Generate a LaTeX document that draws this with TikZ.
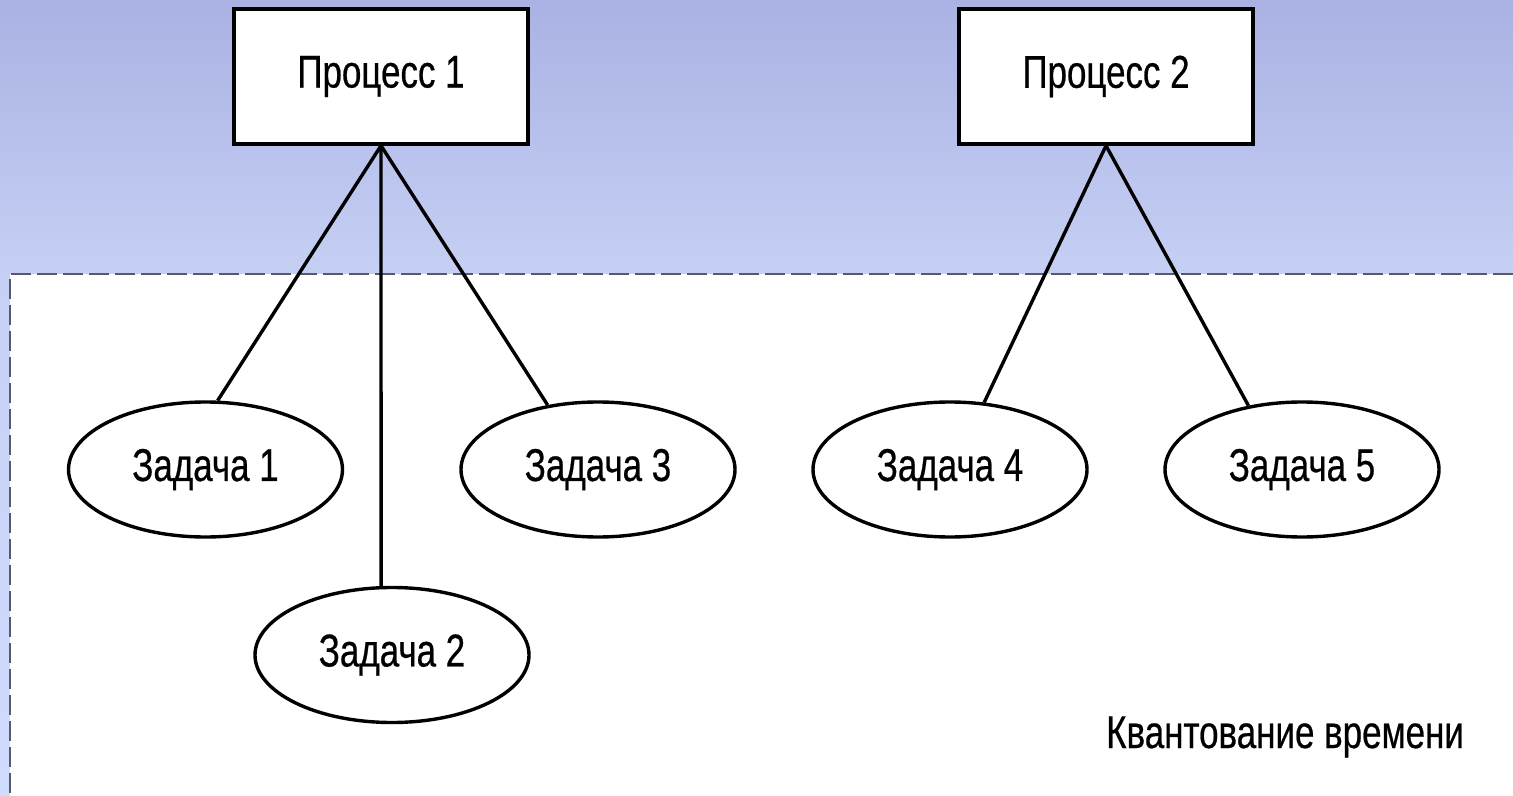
\documentclass[tikz,border=0pt]{standalone}
\usepackage{fontspec}
\setmainfont{Liberation Sans}
\newfontfamily\condfont[FakeStretch=0.76, FakeBold=0.5]{Liberation Sans}
\usetikzlibrary{shapes.geometric}
\definecolor{bgtop}{RGB}{169,178,227}
\definecolor{bgmid}{RGB}{198,208,244}
\definecolor{bgbottom}{RGB}{208,220,254}
\definecolor{framegray}{RGB}{88,89,110}
\tikzset{
  procbox/.style={draw=black, line width=1.7pt, fill=white, rectangle,
    minimum width=147pt, minimum height=67.5pt, inner sep=0pt,
    font=\condfont\fontsize{23}{26}\selectfont},
  taskell/.style={draw=black, line width=1.7pt, fill=white, ellipse,
    minimum width=137pt, minimum height=67.5pt, inner sep=0pt,
    font=\condfont\fontsize{23}{26}\selectfont},
  link/.style={draw=black, line width=1.7pt},
  quantum/.style={dash pattern=on 10pt off 3pt, draw=framegray, line width=1.4pt}
}
\begin{document}
\begin{tikzpicture}[x=0.5pt, y=-0.5pt]
  \useasboundingbox (0,0) rectangle (1513,796);
  % backdrop
  \shade[top color=bgtop, bottom color=bgmid] (0,0) rectangle (1513,275);
  \shade[top color=bgmid, bottom color=bgbottom] (0,274) rectangle (1513,796);
  % time-slicing area
  \fill[white] (10,274) rectangle (1513,796);
  \draw[quantum] (1513,274) -- (10,274) -- (10,796);
  \node[anchor=base east, font=\condfont\fontsize{23}{26}\selectfont] (qlabel) at (1471,748) {Квантование времени};

  % processes
  \node[procbox] (p1) at (381,76.5) {\raisebox{-1.5pt}{Процесс 1}};
  \node[procbox] (p2) at (1106,76.5) {\raisebox{-1.5pt}{Процесс 2}};

  % tasks
  \node[taskell] (t1) at (205.5,469.5) {Задача 1};
  \node[taskell] (t3) at (598,469.5) {Задача 3};
  \node[taskell] (t2) at (392,655) {Задача 2};
  \node[taskell] (t4) at (950,469.5) {Задача 4};
  \node[taskell] (t5) at (1302,469.5) {Задача 5};

  % links
  \draw[link] (p1.south) -- (t1.80);
  \draw[link] (p1.south) -- (t2.99);
  \draw[link] (p1.south) -- (t3.128);
  \draw[link] (p2.south) -- (t4.63);
  \draw[link] (p2.south) -- (t5.130);
\end{tikzpicture}
\end{document}
